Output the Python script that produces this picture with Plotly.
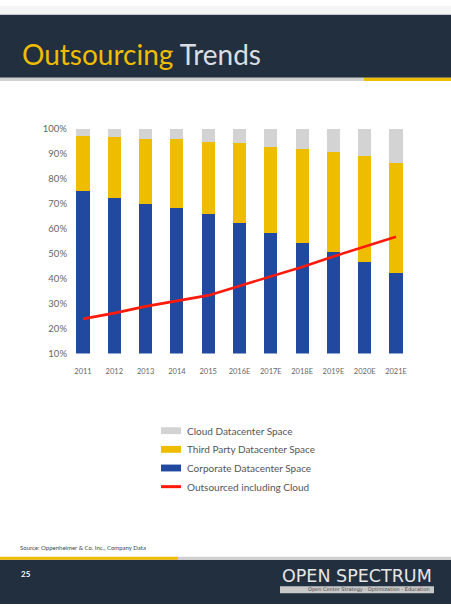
import plotly.graph_objects as go

W, H = 451, 609

years = ["2011", "2012", "2013", "2014", "2015", "2016E", "2017E", "2018E", "2019E", "2020E", "2021E"]
corporate = [75.0, 72.2, 69.8, 68.1, 65.8, 62.3, 58.3, 54.4, 50.5, 46.7, 42.3]
third_party = [21.9, 24.3, 26.0, 27.7, 28.8, 31.8, 34.5, 37.4, 40.3, 42.2, 44.1]
cloud = [3.1, 3.5, 4.2, 4.2, 5.4, 5.9, 7.2, 8.2, 9.2, 11.1, 13.6]
outsourced = [23.9, 26.2, 28.9, 31.0, 33.3, 37.1, 40.8, 44.7, 48.9, 52.8, 56.8]
y_tick_vals = [10, 20, 30, 40, 50, 60, 70, 80, 90, 100]
y_tick_text = [f"{v}%" for v in y_tick_vals]

series_names = ["Cloud Datacenter Space", "Third Party Datacenter Space",
                "Corporate Datacenter Space", "Outsourced including Cloud"]

BLUE = "#2249a0"
YELLOW = "#efbd00"
GREY = "#d3d3d3"
RED = "#ff1a0a"
NAVY = "#222f3f"


def px(x):
    return x / W


def py(y):
    return 1 - y / H


fig = go.Figure()
fig.add_trace(go.Bar(x=years, y=corporate, name=series_names[2], marker=dict(color=BLUE, line=dict(width=0)), showlegend=False))
fig.add_trace(go.Bar(x=years, y=third_party, name=series_names[1], marker=dict(color=YELLOW, line=dict(width=0)), showlegend=False))
fig.add_trace(go.Bar(x=years, y=cloud, name=series_names[0], marker=dict(color=GREY, line=dict(width=0)), showlegend=False))
fig.add_trace(go.Scatter(x=years, y=outsourced, name=series_names[3], mode="lines",
                         line=dict(color=RED, width=2.6), showlegend=False))

# plot area: x 70..412 px, y 125..354 px; category 0 at 83, step 31.3
x_left, x_right = 70, 412
c0, step = 83, 31.3
xr = [(x_left - c0) / step, (x_right - c0) / step]

fig.update_layout(
    width=W, height=H,
    margin=dict(l=0, r=0, t=0, b=0),
    paper_bgcolor="white", plot_bgcolor="rgba(0,0,0,0)",
    barmode="stack", bargap=0.58,
    xaxis=dict(domain=[px(x_left), px(x_right)], range=xr, type="category",
               showgrid=False, zeroline=False, showline=False, ticks="",
               tickfont=dict(family="Lato", size=7.5, color="#666"), ticklabelstandoff=12),
    yaxis=dict(domain=[py(354), py(125)], range=[10, 100], tickvals=y_tick_vals, ticktext=y_tick_text,
               showgrid=False, zeroline=False, showline=False, ticks="",
               tickfont=dict(family="Lato", size=9.5, color="#666"), ticklabelstandoff=2),
    font=dict(family="Lato"),
)

shapes = []
annotations = []

# header
shapes.append(dict(type="rect", xref="paper", yref="paper", x0=0, x1=1, y0=py(9), y1=1, fillcolor="#f4f4f4", line=dict(width=0), layer="below"))
shapes.append(dict(type="rect", xref="paper", yref="paper", x0=0, x1=1, y0=py(73), y1=py(9), fillcolor=NAVY, line=dict(width=0), layer="below"))
shapes.append(dict(type="rect", xref="paper", yref="paper", x0=0, x1=px(364), y0=py(76.5), y1=py(73), fillcolor="#d0d0d0", line=dict(width=0), layer="below"))
shapes.append(dict(type="rect", xref="paper", yref="paper", x0=px(364), x1=1, y0=py(76.5), y1=py(73), fillcolor=YELLOW, line=dict(width=0), layer="below"))
annotations.append(dict(xref="paper", yref="paper", x=px(20), y=py(49), xanchor="left", yanchor="middle",
                        text=f"<span style='color:{YELLOW}'>Outsourcing</span> Trends", showarrow=False,
                        font=dict(family="Lato", size=28, color="#d9dee3")))

# footer
shapes.append(dict(type="rect", xref="paper", yref="paper", x0=0, x1=1, y0=0, y1=py(564), fillcolor=NAVY, line=dict(width=0), layer="below"))
shapes.append(dict(type="rect", xref="paper", yref="paper", x0=0, x1=px(178), y0=py(564), y1=py(561), fillcolor=YELLOW, line=dict(width=0), layer="below"))
shapes.append(dict(type="rect", xref="paper", yref="paper", x0=px(178), x1=1, y0=py(564), y1=py(561), fillcolor="#d0d0d0", line=dict(width=0), layer="below"))
annotations.append(dict(xref="paper", yref="paper", x=px(18), y=py(551), xanchor="left", yanchor="middle",
                        text="Source: Oppenheimer & Co. Inc., Company Data", showarrow=False,
                        font=dict(family="Lato", size=6, color="#444")))
annotations.append(dict(xref="paper", yref="paper", x=px(19), y=py(578), xanchor="left", yanchor="middle",
                        text="<b>25</b>", showarrow=False, font=dict(family="Lato", size=8, color="white")))
annotations.append(dict(xref="paper", yref="paper", x=px(357), y=py(580), xanchor="center", yanchor="middle",
                        text="OPEN SPECTRUM", showarrow=False, font=dict(family="DejaVu Sans", size=17.5, color="#e6e6e6")))
shapes.append(dict(type="rect", xref="paper", yref="paper", x0=px(280), x1=px(434), y0=py(598), y1=py(591), fillcolor="#c8c8c8", line=dict(width=0), layer="below"))
annotations.append(dict(xref="paper", yref="paper", x=px(432), y=py(594.5), xanchor="right", yanchor="middle",
                        text="Open Center Strategy - Optimization - Education", showarrow=False,
                        font=dict(family="DejaVu Sans", size=5, color="#444")))

# legend (manual)
leg_colors = [GREY, YELLOW, BLUE, RED]
for i, (nm, col) in enumerate(zip(series_names, leg_colors)):
    cy = 432.5 + 19 * i
    if i < 3:
        shapes.append(dict(type="rect", xref="paper", yref="paper", x0=px(161), x1=px(181), y0=py(cy + 3.5), y1=py(cy - 3.5),
                           fillcolor=col, line=dict(width=0)))
    else:
        shapes.append(dict(type="line", xref="paper", yref="paper", x0=px(161), x1=px(181), y0=py(cy), y1=py(cy),
                           line=dict(color=col, width=3)))
    annotations.append(dict(xref="paper", yref="paper", x=px(185), y=py(cy), xanchor="left", yanchor="middle",
                            text=nm, showarrow=False, font=dict(family="Lato", size=10, color="#555")))

fig.update_layout(shapes=shapes, annotations=annotations)
fig.write_html("out.html")
